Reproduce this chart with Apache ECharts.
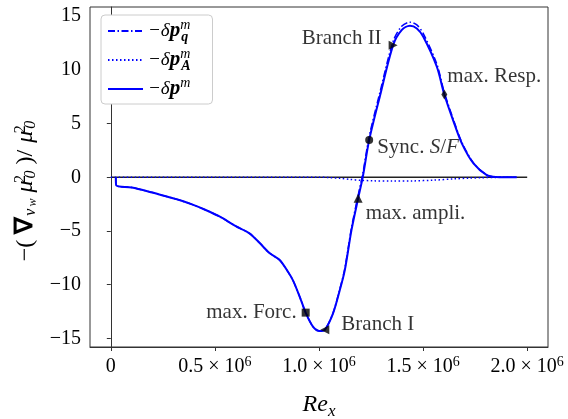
<!DOCTYPE html>
<html>
<head>
<meta charset="utf-8">
<script src="https://cdn.jsdelivr.net/npm/echarts@6/dist/echarts.min.js"></script>
<style>
  html, body { margin: 0; padding: 0; background: #ffffff; }
  #chart { width: 568px; height: 419px; }
</style>
</head>
<body>
<div id="chart"></div>
<script>
// Local Reynolds number along the plate
const reX = [0.024e6, 0.026e6, 0.10e6, 0.20e6, 0.233e6, 0.329e6, 0.393e6, 0.45e6, 0.522e6, 0.60e6,
             0.666e6, 0.714e6, 0.762e6, 0.811e6, 0.851e6, 0.875e6, 0.907e6, 0.936e6, 0.971e6, 1.003e6,
             1.028e6, 1.067e6, 1.10e6, 1.124e6, 1.156e6, 1.188e6, 1.21e6, 1.241e6, 1.292e6, 1.356e6,
             1.397e6, 1.437e6, 1.47e6, 1.501e6, 1.566e6, 1.602e6, 1.646e6, 1.686e6, 1.742e6, 1.806e6,
             1.85e6, 1.95e6];

// total pressure-gradient contribution  -δp^m
const dpTotal = [0, -0.75, -0.95, -1.42, -1.6, -2.12, -2.55, -3.0, -3.65, -4.55,
                 -5.22, -6.1, -7.05, -7.7, -8.8, -9.6, -11.1, -12.6, -13.9, -14.32,
                 -14.2, -12.7, -10.5, -8.64, -4.92, -1.96, 0.0, 3.46, 7.5, 12.3,
                 13.7, 14.1, 13.85, 13.08, 10.29, 7.7, 5.2, 3.16, 1.29, 0.2,
                 0.03, 0];

// quasi-steady part  -δp^m_q
const dpQ = [0, -0.75, -0.95, -1.42, -1.6, -2.12, -2.55, -3.0, -3.65, -4.55,
             -5.22, -6.1, -7.05, -7.7, -8.8, -9.6, -11.1, -12.6, -13.9, -14.32,
             -14.2, -12.65, -10.4, -8.49, -4.7, -1.68, 0.3, 3.78, 7.85, 12.65,
             14.05, 14.44, 14.18, 13.38, 10.54, 7.9, 5.35, 3.26, 1.34, 0.22,
             0.03, 0];

// acceleration part  -δp^m_A
const reA = [0, 0.5e6, 1.0e6, 1.05e6, 1.1e6, 1.15e6, 1.2e6, 1.26e6, 1.35e6, 1.45e6,
             1.55e6, 1.65e6, 1.72e6, 1.78e6, 1.85e6, 1.95e6];
const dpA = [0, 0, 0, -0.03, -0.1, -0.2, -0.28, -0.33, -0.35, -0.34,
             -0.27, -0.15, -0.08, -0.04, -0.01, 0];

// reference zero line
const zeroX = [0, 2.0e6];
const zeroY = [0, 0];

// annotated points on the total curve
const markNames = ['max. Forc.', 'Branch I', 'max. ampli.', 'Sync. {it|S}/{it|F}', 'Branch II', 'max. Resp.'];
const markX = [0.936e6, 1.028e6, 1.188e6, 1.241e6, 1.356e6, 1.602e6];
const markY = [-12.6, -14.2, -1.96, 3.46, 12.3, 7.7];

// tick positions
const xTicks = [0, 0.5e6, 1.0e6, 1.5e6, 2.0e6];
const yTicks = [-15, -10, -5, 0, 5, 10, 15];

const SERIF = 'Liberation Serif';
const BLUE = '#0000ff';

const pairs = (xs, ys) => xs.map((x, i) => [x, ys[i]]);

// per-marker look: symbol, rotation, label placement
const markLook = [
  { symbol: 'rect', size: 8, rotate: 0, pos: 'left', dist: 5, off: [0, 0] },
  { symbol: 'triangle', size: 9, rotate: 90, pos: 'right', dist: 12, off: [0, -5] },
  { symbol: 'triangle', size: 9, rotate: 0, pos: 'right', dist: 3, off: [0, 15] },
  { symbol: 'circle', size: 8, rotate: 0, pos: 'right', dist: 4, off: [0, 7] },
  { symbol: 'triangle', size: 9, rotate: -90, pos: 'left', dist: 7, off: [0, -7] },
  { symbol: 'diamond', size: [6, 10], rotate: 0, pos: 'right', dist: 0, off: [0, -18] }
];

const markData = markX.map((x, i) => {
  const s = markLook[i];
  return {
    value: [x, markY[i]],
    name: markNames[i],
    symbol: s.symbol,
    symbolSize: s.size,
    symbolRotate: s.rotate,
    label: { position: s.pos, distance: s.dist, offset: s.off }
  };
});

const legendText = {
  q: '−δ{pb|p}{supw|m}{subb|q}',
  A: '−δ{pb|p}{supw|m}{subb|A}',
  p: '−δ{pb|p}{sup|m}'
};

const chart = echarts.init(document.getElementById('chart'), null, { renderer: 'canvas' });

chart.setOption({
  animation: false,
  backgroundColor: '#ffffff',
  grid: {
    left: 90, top: 7, right: 20, bottom: 72,
    containLabel: false,
    outerBoundsMode: 'none',
    show: true, borderColor: '#333333', borderWidth: 1, backgroundColor: 'transparent'
  },
  legend: {
    orient: 'vertical',
    left: 101, top: 15,
    padding: [3, 22, 2, 6],
    itemWidth: 35, itemHeight: 12,
    itemGap: 3,
    itemTextGap: 10,
    itemStyle: { opacity: 0 },
    backgroundColor: '#ffffff',
    borderColor: '#cccccc', borderWidth: 1, borderRadius: 4,
    data: ['q', 'A', 'p'],
    formatter: (name) => legendText[name],
    textStyle: {
      fontFamily: SERIF, fontSize: 19, fontStyle: 'italic', color: '#000', lineHeight: 26,
      rich: {
        pb: { fontFamily: SERIF, fontSize: 21, fontStyle: 'italic', fontWeight: 'bold', color: '#000', lineHeight: 26 },
        sup: { fontFamily: SERIF, fontSize: 14, fontStyle: 'italic', color: '#000', verticalAlign: 'top', lineHeight: 14 },
        supw: { fontFamily: SERIF, fontSize: 14, fontStyle: 'italic', color: '#000', verticalAlign: 'top', lineHeight: 14, width: 1 },
        subb: { fontFamily: SERIF, fontSize: 14, fontStyle: 'italic', fontWeight: 'bold', color: '#000', verticalAlign: 'bottom', lineHeight: 14 }
      }
    }
  },
  xAxis: {
    type: 'value',
    min: -0.1e6, max: 2.1e6,
    name: '{it|Re}{sub|x}',
    nameLocation: 'middle',
    nameGap: 43,
    nameTextStyle: {
      rich: {
        it: { fontFamily: SERIF, fontSize: 24, fontStyle: 'italic', color: '#000', lineHeight: 30 },
        sub: { fontFamily: SERIF, fontSize: 17, fontStyle: 'italic', color: '#000', verticalAlign: 'bottom', lineHeight: 20 }
      }
    },
    axisLine: { show: true, onZero: false, lineStyle: { color: '#333333', width: 1 } },
    axisTick: { show: true, length: 4, customValues: xTicks, lineStyle: { color: '#333333' } },
    splitLine: { show: false },
    axisLabel: {
      customValues: xTicks,
      margin: 8,
      formatter: (v) => v === 0 ? '{n|0}' : '{n|' + (v / 1e6).toFixed(1) + ' × 10}{s|6}',
      rich: {
        n: { fontFamily: SERIF, fontSize: 20, color: '#000', lineHeight: 24 },
        s: { fontFamily: SERIF, fontSize: 14, color: '#000', verticalAlign: 'top', lineHeight: 14 }
      }
    }
  },
  yAxis: {
    type: 'value',
    min: -15.8, max: 15.85,
    name: '{n|−(}{b|∇}{sub|v}{subsub|w}{it|μ}{supw|2}{sub|0}{n|)/}{it|μ}{supw|2}{sub|0}',
    nameLocation: 'middle',
    nameRotate: 90,
    nameGap: 44,
    nameTextStyle: {
      fontFamily: SERIF, fontSize: 24, color: '#000', lineHeight: 26,
      padding: [0, 30, 0, 0],
      rich: {
        n: { fontFamily: SERIF, fontSize: 24, color: '#000', lineHeight: 26, padding: [0, 4, 0, 4] },
        b: { fontFamily: SERIF, fontSize: 25, fontWeight: 'bold', color: '#000', lineHeight: 26, padding: [0, 1, 0, 2] },
        it: { fontFamily: SERIF, fontSize: 24, fontStyle: 'italic', color: '#000', lineHeight: 26, padding: [0, 1, 0, 3] },
        sub: { fontFamily: SERIF, fontSize: 16, fontStyle: 'italic', color: '#000', verticalAlign: 'bottom', lineHeight: 16, padding: [0, 2, 0, 0] },
        subsub: { fontFamily: SERIF, fontSize: 12, fontStyle: 'italic', color: '#000', verticalAlign: 'bottom', lineHeight: 11, padding: [0, 3, 0, 0] },
        supw: { fontFamily: SERIF, fontSize: 16, color: '#000', verticalAlign: 'top', lineHeight: 16, width: 1 }
      }
    },
    axisLine: { show: true, lineStyle: { color: '#333333', width: 1 } },
    axisTick: { show: true, length: 4, customValues: yTicks, lineStyle: { color: '#333333' } },
    splitLine: { show: false },
    axisLabel: {
      customValues: yTicks,
      margin: 9,
      fontFamily: SERIF, fontSize: 20, color: '#000',
      formatter: (v) => v < 0 ? '−' + Math.abs(v) : String(v)
    }
  },
  series: [
    {
      name: 'zero', type: 'line', data: pairs(zeroX, zeroY), symbol: 'none', silent: true,
      lineStyle: { color: '#222222', width: 1.4 }, z: 1
    },
    {
      name: 'A', type: 'line', data: pairs(reA, dpA), symbol: 'none', smooth: 0.3,
      itemStyle: { color: BLUE },
      lineStyle: { color: BLUE, width: 1.5, type: [1.5, 2.5] }, z: 2
    },
    {
      name: 'q', type: 'line', data: pairs(reX, dpQ), symbol: 'none', smooth: 0.3,
      itemStyle: { color: BLUE },
      lineStyle: { color: BLUE, width: 1.5, type: [7, 2.5, 1.5, 2.5] }, z: 3
    },
    {
      name: 'p', type: 'line', data: pairs(reX, dpTotal), symbol: 'none', smooth: 0.3,
      itemStyle: { color: BLUE },
      lineStyle: { color: BLUE, width: 2 }, z: 4
    },
    {
      name: 'marks', type: 'scatter', data: markData, z: 10,
      itemStyle: { color: '#000000' },
      label: {
        show: true,
        formatter: (p) => p.name,
        fontFamily: SERIF, fontSize: 21, color: '#000',
        rich: { it: { fontFamily: SERIF, fontSize: 21, fontStyle: 'italic', color: '#000' } }
      }
    }
  ]
});
</script>
</body>
</html>
